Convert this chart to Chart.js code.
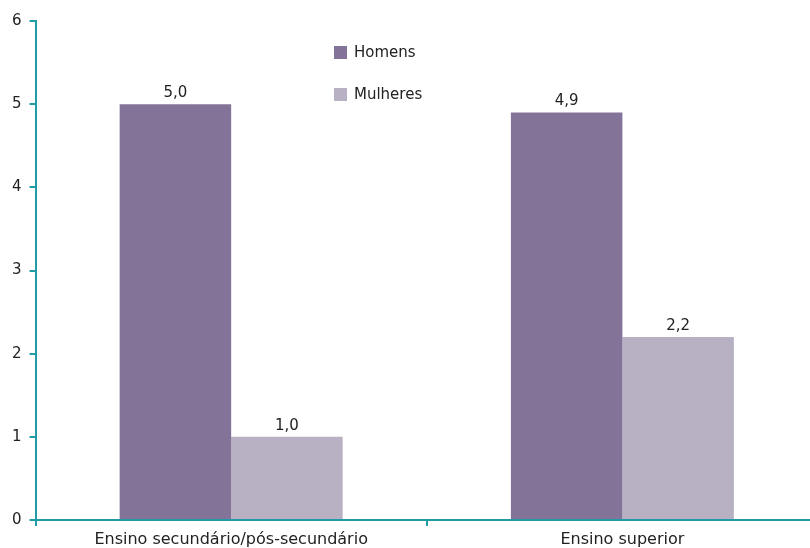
<!DOCTYPE html>
<html>
<head>
<meta charset="utf-8">
<script src="https://cdn.jsdelivr.net/npm/chart.js@4.4.0/dist/chart.umd.min.js"></script>
<style>
    html, body { margin: 0; padding: 0; background: #fff; overflow: hidden; }
    #wrap { width: 822px; height: 548px; }
</style>
</head>
<body>
<div id="wrap"><canvas id="chart"></canvas></div>
<script>
const categories = ['Ensino secundário/pós-secundário', 'Ensino superior'];
const homens = [5.0, 4.9];
const mulheres = [1.0, 2.2];
const yTicks = [0, 1, 2, 3, 4, 5, 6];

const teal = '#1f9ca6';
const fontFamily = '"DejaVu Sans", sans-serif';

// value labels above each bar, with a comma as decimal separator
const valueLabels = {
    id: 'valueLabels',
    afterDatasetsDraw(chart) {
        const ctx = chart.ctx;
        ctx.save();
        ctx.font = '15px ' + fontFamily;
        ctx.fillStyle = '#222';
        ctx.textAlign = 'center';
        ctx.textBaseline = 'alphabetic';
        chart.data.datasets.forEach((ds, i) => {
            chart.getDatasetMeta(i).data.forEach((bar, j) => {
                ctx.fillText(ds.data[j].toFixed(1).replace('.', ','), bar.x, bar.y - 7);
            });
        });
        ctx.restore();
    }
};

// vertical legend sitting inside the plot
const innerLegend = {
    id: 'innerLegend',
    afterDraw(chart) {
        const ctx = chart.ctx;
        ctx.save();
        ctx.font = '15px ' + fontFamily;
        ctx.textBaseline = 'middle';
        chart.data.datasets.forEach((ds, i) => {
            const y = 53 + i * 42;
            ctx.fillStyle = ds.backgroundColor;
            ctx.fillRect(334, y - 7, 13, 13);
            ctx.fillStyle = '#222';
            ctx.fillText(ds.label, 354, y);
        });
        ctx.restore();
    }
};

new Chart(document.getElementById('chart'), {
    type: 'bar',
    data: {
        labels: categories,
        datasets: [
            { label: 'Homens', data: homens, backgroundColor: '#837399' },
            { label: 'Mulheres', data: mulheres, backgroundColor: '#b8b0c3' }
        ]
    },
    options: {
        responsive: true,
        maintainAspectRatio: false,
        animation: false,
        layout: { padding: { top: 21, right: 4, left: 4, bottom: 0 } },
        categoryPercentage: 0.57,
        barPercentage: 1.0,
        plugins: { legend: { display: false }, tooltip: { enabled: false } },
        scales: {
            x: {
                afterFit(axis) { axis.height = 28; },
                grid: { display: true, drawOnChartArea: false, color: teal, lineWidth: 2, tickLength: 6, offset: true },
                border: { color: teal, width: 2 },
                ticks: { color: '#222', font: { family: fontFamily, size: 16, lineHeight: 1 }, padding: 6, maxRotation: 0 }
            },
            y: {
                min: 0,
                max: 6,
                afterBuildTicks(axis) { axis.ticks = yTicks.map(v => ({ value: v })); },
                grid: { display: true, drawOnChartArea: false, color: teal, lineWidth: 2, tickLength: 6 },
                border: { color: teal, width: 2 },
                ticks: { color: '#222', font: { family: fontFamily, size: 15 }, padding: 8 }
            }
        }
    },
    plugins: [valueLabels, innerLegend]
});
</script>
</body>
</html>
